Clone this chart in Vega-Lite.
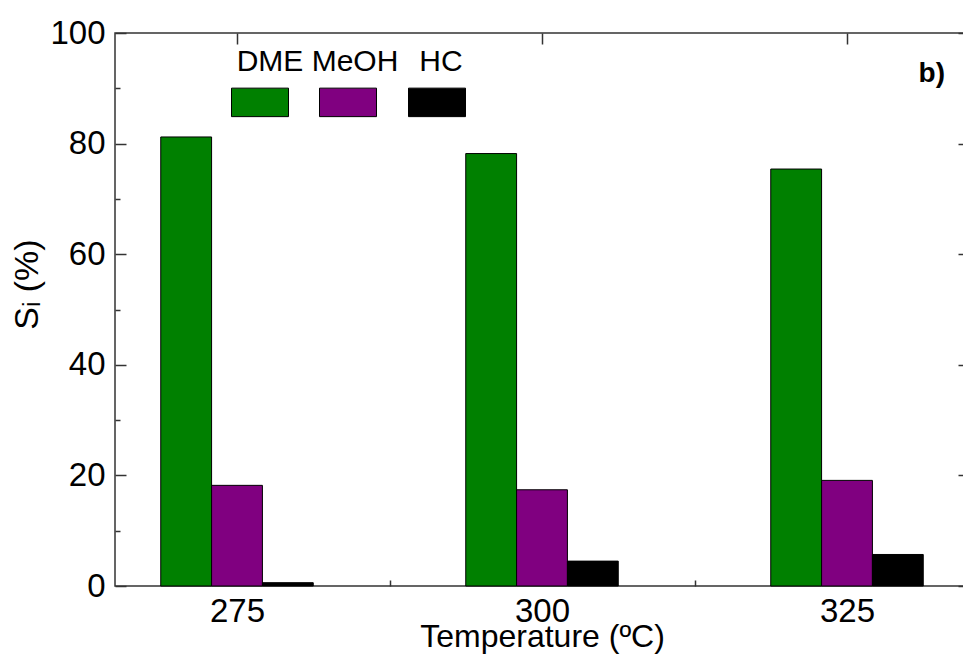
{
  "$schema": "https://vega.github.io/schema/vega-lite/v6.json",
  "width": 854,
  "height": 553,
  "autosize": "none",
  "padding": {"left": 115, "top": 33, "right": -6, "bottom": 84},
  "background": "white",
  "config": {
    "font": "Liberation Sans",
    "view": {"stroke": "#333333", "strokeWidth": 1.5},
    "axis": {
      "grid": false,
      "domain": false,
      "labelColor": "black",
      "titleColor": "black",
      "tickColor": "#333333",
      "tickWidth": 1.5,
      "labelFont": "Liberation Sans",
      "titleFont": "Liberation Sans",
      "titleFontWeight": "normal"
    }
  },
  "title": {
    "text": "b)",
    "anchor": "end",
    "frame": "group",
    "orient": "top",
    "offset": 0,
    "dy": 93,
    "dx": -24,
    "baseline": "alphabetic",
    "font": "Liberation Sans",
    "fontSize": 28,
    "fontWeight": "bold",
    "color": "black"
  },
  "data": {
    "values": [
      {"temperature": "275", "product": "DME", "selectivity": 81.2},
      {"temperature": "275", "product": "MeOH", "selectivity": 18.2},
      {"temperature": "275", "product": "HC", "selectivity": 0.6},
      {"temperature": "300", "product": "DME", "selectivity": 78.2},
      {"temperature": "300", "product": "MeOH", "selectivity": 17.4},
      {"temperature": "300", "product": "HC", "selectivity": 4.5},
      {"temperature": "325", "product": "DME", "selectivity": 75.4},
      {"temperature": "325", "product": "MeOH", "selectivity": 19.1},
      {"temperature": "325", "product": "HC", "selectivity": 5.7}
    ]
  },
  "layer": [
    {
      "mark": {"type": "bar", "stroke": "black", "strokeWidth": 1},
      "encoding": {
        "x": {
          "field": "temperature",
          "type": "ordinal",
          "scale": {"paddingInner": 0.5, "paddingOuter": 0.15},
          "axis": {
            "orient": "bottom",
            "title": "Temperature (ºC)",
            "labelAngle": 0,
            "labelFontSize": 33,
            "labelPadding": 15.5,
            "tickSize": -6,
            "tickOffset": 152.5,
            "labelOffset": -152.5,
            "titleFontSize": 32,
            "titleBaseline": "alphabetic",
            "titleY": 60
          }
        },
        "xOffset": {
          "field": "product",
          "type": "nominal",
          "sort": ["DME", "MeOH", "HC"],
          "scale": {"paddingInner": 0, "paddingOuter": 0}
        },
        "y": {
          "field": "selectivity",
          "type": "quantitative",
          "scale": {"domain": [0, 100], "nice": false},
          "axis": {
            "orient": "left",
            "values": [0, 10, 20, 30, 40, 50, 60, 70, 80, 90, 100],
            "labelExpr": "datum.value % 20 === 0 ? datum.label : ''",
            "tickSize": {"condition": {"test": "datum.value % 20 === 0", "value": -11}, "value": -5},
            "labelPadding": 21,
            "labelFontSize": 33,
            "title": "Sᵢ (%)",
            "titleFontSize": 34,
            "titleAngle": 270,
            "titleAlign": "center",
            "titleBaseline": "alphabetic",
            "titleX": -78,
            "titleY": 251
          }
        },
        "color": {
          "field": "product",
          "type": "nominal",
          "sort": ["DME", "MeOH", "HC"],
          "scale": {"domain": ["DME", "MeOH", "HC"], "range": ["#008000", "#800080", "#000000"]},
          "legend": {
            "orient": "none",
            "legendX": 116,
            "legendY": 40,
            "direction": "horizontal",
            "columns": 3,
            "title": null,
            "padding": 0,
            "symbolType": "M-1,-0.5H1V0.5H-1Z",
            "symbolSize": 3249,
            "symbolStrokeColor": "black",
            "symbolStrokeWidth": 1,
            "symbolOpacity": 1,
            "labelFont": "Liberation Sans",
            "labelFontSize": 30,
            "labelColor": "black",
            "labelOffset": -19,
            "labelAlign": "center",
            "columnPadding": 7,
            "gridAlign": "each",
            "encode": {
              "labels": {
                "update": {
                  "dy": {"value": -40},
                  "dx": {"signal": "datum.label === 'MeOH' ? -3 : datum.label === 'HC' ? -6 : 0"}
                }
              }
            }
          }
        }
      }
    },
    {
      "mark": {"type": "bar", "opacity": 0},
      "encoding": {
        "x": {
          "field": "temperature",
          "type": "ordinal",
          "scale": {"paddingInner": 0.5, "paddingOuter": 0.15},
          "axis": {"orient": "top", "labels": false, "title": null, "tickSize": -11}
        },
        "xOffset": {
          "field": "product",
          "type": "nominal",
          "sort": ["DME", "MeOH", "HC"],
          "scale": {"paddingInner": 0, "paddingOuter": 0}
        },
        "y": {
          "field": "selectivity",
          "type": "quantitative",
          "scale": {"domain": [0, 100], "nice": false},
          "axis": {
            "orient": "right",
            "values": [0, 10, 20, 30, 40, 50, 60, 70, 80, 90, 100],
            "labels": false,
            "title": null,
            "tickSize": {"condition": {"test": "datum.value % 20 === 0", "value": -11}, "value": -5}
          }
        }
      }
    }
  ],
  "resolve": {"axis": {"x": "independent", "y": "independent"}}
}
